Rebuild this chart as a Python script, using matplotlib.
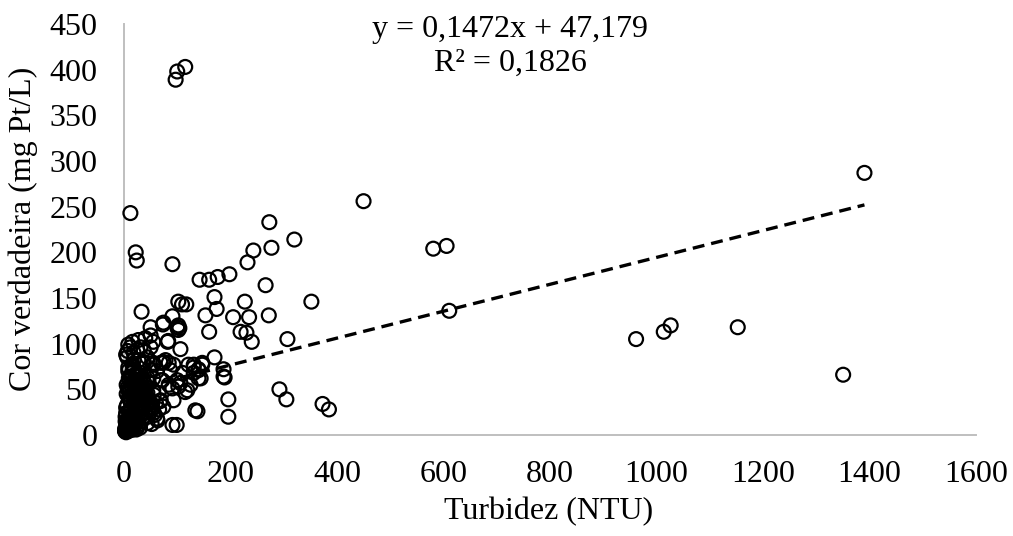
import matplotlib
matplotlib.use("Agg")
import matplotlib.pyplot as plt
import numpy as np

# Turbidez (NTU)
turbidez = [
    12, 22, 24, 91, 142, 160, 176, 198, 232, 243, 273, 277, 320, 450, 581, 606, 611,
    962, 1014, 1027, 1153, 1351, 1391, 97, 100, 115,
    266, 170, 174, 227, 235, 272, 352, 153, 205, 160, 219, 230, 240, 307, 33, 102,
    109, 117, 91, 73, 50, 102, 104, 83, 106, 170, 187, 189, 140, 131, 147, 140, 292,
    305, 373, 385, 196, 196, 138, 99, 119, 91, 93, 84, 87, 72,
    16, 27, 40, 50, 55, 50, 37, 25, 12, 18, 37, 55, 74, 131, 74, 100, 102, 82,
    147, 140, 144, 187, 106,
    8, 31, 18, 27, 44, 37, 18, 50, 31, 12, 25, 37, 8, 22, 44, 55, 65, 69, 50, 31,
    18, 7, 37, 55, 74, 63, 44, 25, 7, 2,
    16, 35, 55, 74, 93, 121, 131, 69, 84, 102, 115, 125, 91, 134, 110, 100, 78, 69,
    2, 3, 2, 4, 3, 5, 6, 5, 4, 7, 8, 6, 9, 10, 8, 11, 12, 13, 10, 14, 15, 16, 18, 17,
    20, 12, 15, 19, 22, 21, 14, 18, 24, 26, 28, 23, 30, 33, 27, 20, 11, 16, 24, 30,
    35, 40, 45, 38, 13, 10, 20, 26, 8, 15, 6, 4, 3, 5, 7, 32, 42, 48, 52, 58, 60, 66,
    35, 45, 55, 62,
    3, 4, 6, 9, 11, 13, 16, 19, 22, 25, 29, 34, 38, 43, 47, 9, 12, 17, 21, 26, 31,
    36, 41, 46, 53, 5, 8, 14, 19, 24, 28, 33, 39, 44, 50, 56, 62, 68, 4, 7, 10,
]

# Cor verdadeira (mg Pt/L)
cor_verdadeira = [
    243, 200, 191, 187, 170, 170, 173, 176, 189, 202, 233, 205, 214, 256, 204, 207, 136,
    105, 113, 120, 118, 66, 287, 389, 398, 403,
    164, 151, 138, 146, 129, 131, 146, 131, 129, 113, 113, 112, 102, 105, 135, 146,
    143, 143, 130, 121, 118, 120, 117, 103, 94, 85, 72, 63, 72, 74, 79, 62, 50,
    39, 34, 28, 39, 20, 26, 11, 49, 51, 38, 79, 71, 60,
    102, 104, 106, 109, 102, 96, 93, 93, 96, 82, 80, 79, 80, 77, 123, 118, 115, 102,
    77, 71, 62, 64, 57,
    99, 96, 90, 82, 85, 79, 74, 71, 68, 64, 60, 57, 49, 46, 46, 49, 46, 38, 35, 31,
    24, 16, 20, 24, 31, 16, 13, 9, 8, 5,
    77, 79, 77, 79, 77, 77, 68, 60, 55, 53, 47, 55, 11, 27, 68, 60, 82, 79,
    4, 5, 6, 3, 8, 4, 6, 9, 12, 5, 10, 14, 7, 12, 18, 5, 9, 14, 20, 18, 11, 6, 9, 15,
    12, 25, 22, 20, 16, 28, 30, 33, 25, 18, 12, 6, 8, 15, 35, 40, 38, 44, 48, 42,
    30, 25, 20, 38, 55, 60, 56, 65, 70, 68, 85, 30, 20, 45, 52, 50, 40, 30, 12, 22, 35, 28,
    62, 58, 62, 70,
    15, 24, 33, 41, 27, 36, 45, 52, 38, 47, 55, 43, 50, 35, 28, 62, 48, 58, 66, 54, 60,
    45, 52, 40, 33, 55, 74, 62, 72, 58, 66, 48, 56, 63, 26, 44, 18, 37, 88, 92, 40,
]

slope = 0.1472
intercept = 47.179
eq_text = "y = 0,1472x + 47,179"
r2_text = "R² = 0,1826"

x_ticks = [0, 200, 400, 600, 800, 1000, 1200, 1400, 1600]
y_ticks = [0, 50, 100, 150, 200, 250, 300, 350, 400, 450]

plt.rcParams['font.family'] = ['Liberation Serif', 'DejaVu Serif']
plt.rcParams['lines.scale_dashes'] = False

W, H = 1013, 536
FS = 23
fig = plt.figure(figsize=(W / 100, H / 100), dpi=100)
ax = fig.add_axes([124 / W, 1 - 435 / H, (975.7 - 124) / W, (435 - 24) / H])

ax.scatter(turbidez, cor_verdadeira, s=100, facecolors='none', edgecolors='black',
           linewidths=1.6, zorder=3, clip_on=False)

xt = np.array([min(turbidez), max(turbidez)])
ax.plot(xt, slope * xt + intercept, color='black', lw=2.4,
        linestyle=(0, (8.6, 5)), zorder=4)

ax.set_xlim(0, 1600)
ax.set_ylim(0, 450)
ax.set_xticks(x_ticks)
ax.set_yticks(y_ticks)
ax.tick_params(axis='both', length=0, labelsize=FS)
ax.tick_params(axis='x', pad=18)
ax.tick_params(axis='y', pad=19)

for s in ['top', 'right']:
    ax.spines[s].set_visible(False)
for s in ['left', 'bottom']:
    ax.spines[s].set_color('#BFBFBF')
    ax.spines[s].set_linewidth(1.4)
    ax.spines[s].set_zorder(1)

fig.text(510 / W, 1 - 37 / H, eq_text, ha='center', va='baseline', fontsize=FS)
fig.text(510 / W, 1 - 71 / H, r2_text, ha='center', va='baseline', fontsize=FS)

fig.text(549 / W, 1 - 519 / H, "Turbidez (NTU)", ha='center', va='baseline', fontsize=FS)
fig.text(23 / W, 1 - 229 / H, "Cor verdadeira (mg Pt/L)", ha='center', va='center',
         rotation=90, fontsize=FS)

fig.savefig("out.png", dpi=100)
